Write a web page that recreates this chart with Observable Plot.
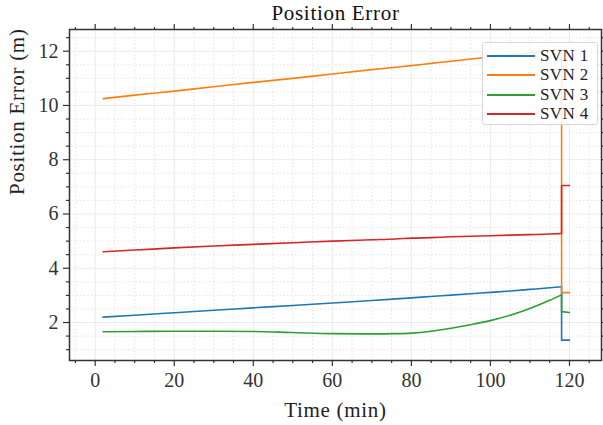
<!DOCTYPE html>
<html>
<head>
<meta charset="utf-8">
<script src="https://cdn.jsdelivr.net/npm/d3@7"></script>
<script src="https://cdn.jsdelivr.net/npm/@observablehq/plot@0.6"></script>
<style>
  html, body { margin: 0; padding: 0; background: white; }
  #wrap { position: relative; width: 603px; height: 425px; }
  #legend { position: absolute; left: 482px; top: 42px; width: 116px; height: 83px; box-sizing: border-box;
    background: rgba(255,255,255,0.85); border: 1px solid #d6d6de; border-radius: 3px; padding-top: 3px; }
  .row { height: 19.5px; display: flex; align-items: center; font-family: "Liberation Serif", serif; font-size: 17px; color: #222; letter-spacing: 0.4px; }
  .row svg { margin-left: 4px; margin-right: 5px; }
  .lbl { letter-spacing: 0.7px; }
</style>
</head>
<body>
<div id="wrap"><div id="legend"></div></div>
<script>
const seriesNames = ["SVN 1", "SVN 2", "SVN 3", "SVN 4"];
const seriesColors = ["#1f77b4", "#ff7f0e", "#2ca02c", "#d62728"];
const time = [2, 10, 20, 30, 40, 50, 60, 70, 76, 80, 85, 90, 95, 100, 105, 110, 115, 118, 118, 120];
const svn1 = [2.20, 2.27, 2.36, 2.45, 2.54, 2.63, 2.72, 2.81, 2.87, 2.91, 2.96, 3.01, 3.06, 3.11, 3.16, 3.22, 3.28, 3.32, 1.35, 1.35];
const svn2 = [10.25, 10.38, 10.53, 10.69, 10.85, 11.00, 11.16, 11.32, 11.41, 11.47, 11.55, 11.63, 11.71, 11.79, 11.86, 11.94, 12.02, 12.07, 3.10, 3.10];
const svn3 = [1.66, 1.67, 1.68, 1.68, 1.67, 1.63, 1.59, 1.58, 1.59, 1.61, 1.68, 1.79, 1.92, 2.07, 2.27, 2.52, 2.82, 3.02, 2.40, 2.37];
const svn4 = [4.61, 4.67, 4.75, 4.82, 4.88, 4.94, 5.00, 5.05, 5.08, 5.11, 5.13, 5.16, 5.18, 5.20, 5.22, 5.24, 5.26, 5.28, 7.05, 7.05];
const xMajor = [0, 20, 40, 60, 80, 100, 120];
const xMinor = [-5, 5, 10, 15, 25, 30, 35, 45, 50, 55, 65, 70, 75, 85, 90, 95, 105, 110, 115, 125];
const yMajor = [2, 4, 6, 8, 10, 12];
const yMinor = [1, 1.5, 2.5, 3, 3.5, 4.5, 5, 5.5, 6.5, 7, 7.5, 8.5, 9, 9.5, 10.5, 11, 11.5, 12.5];
const titleText = "Position Error";
const xLabel = "Time (min)";
const yLabel = "Position Error (m)";

const allSeries = [svn1, svn2, svn3, svn4];
const jumpStart = 17; // index where the final step begins
const trend = [], jump = [];
allSeries.forEach((vals, i) => vals.forEach((v, j) => {
  const row = {series: seriesNames[i], t: time[j], v};
  if (j <= jumpStart) trend.push(row);
  if (j >= jumpStart) jump.push(row);
}));

const ink = "#333";
const font = "Liberation Serif, serif";
const chart = Plot.plot({
  width: 603, height: 425,
  marginLeft: 69, marginRight: 2, marginTop: 29, marginBottom: 65,
  x: {domain: [-6.5, 128.1]},
  y: {domain: [0.6, 12.8]},
  color: {domain: seriesNames, range: seriesColors},
  style: {fontFamily: font, fontSize: "20px", background: "white", color: ink, overflow: "visible"},
  marks: [
    Plot.gridX(xMinor, {stroke: "#dcdce8", strokeOpacity: 1, strokeDasharray: "1.2,2.5"}),
    Plot.gridY(yMinor, {stroke: "#dcdce8", strokeOpacity: 1, strokeDasharray: "1.2,2.5"}),
    Plot.gridX(xMajor, {stroke: "#eaeaf4", strokeOpacity: 1}),
    Plot.gridY(yMajor, {stroke: "#eaeaf4", strokeOpacity: 1}),
    Plot.line(trend, {x: "t", y: "v", z: "series", stroke: "series", strokeWidth: 1.6, curve: "monotone-x"}),
    Plot.line(jump, {x: "t", y: "v", z: "series", stroke: "series", strokeWidth: 1.6}),
    Plot.axisX(xMajor, {tickSize: 6, tickPadding: 6, label: null, stroke: ink, strokeWidth: 1.2, fontSize: 20}),
    Plot.axisX(xMinor, {tickSize: 3, text: null, label: null, stroke: ink, strokeWidth: 1.2}),
    Plot.axisX(xMajor, {anchor: "top", tickSize: 6, text: null, label: null, stroke: ink, strokeWidth: 1.2}),
    Plot.axisX(xMinor, {anchor: "top", tickSize: 3, text: null, label: null, stroke: ink, strokeWidth: 1.2}),
    Plot.axisY(yMajor, {tickSize: 6, tickPadding: 5, label: null, stroke: ink, strokeWidth: 1.2, fontSize: 20}),
    Plot.axisY(yMinor, {tickSize: 3, text: null, label: null, stroke: ink, strokeWidth: 1.2}),
    Plot.axisY(yMajor, {anchor: "right", tickSize: 6, text: null, label: null, stroke: ink, strokeWidth: 1.2}),
    Plot.axisY(yMinor, {anchor: "right", tickSize: 3, text: null, label: null, stroke: ink, strokeWidth: 1.2}),
    Plot.frame({stroke: ink, strokeWidth: 1.5}),
    Plot.text([titleText], {frameAnchor: "top", lineAnchor: "middle", dy: -16, fontSize: 21, fill: "#111", className: "lbl"}),
    Plot.text([xLabel], {frameAnchor: "bottom", lineAnchor: "middle", dy: 50, fontSize: 21, fill: "#222", className: "lbl"}),
    Plot.text([yLabel], {frameAnchor: "left", lineAnchor: "middle", dx: -52, rotate: -90, fontSize: 21, fill: "#222", className: "lbl"})
  ]
});
const wrap = document.getElementById("wrap");
wrap.insertBefore(chart, wrap.firstChild);

const legend = document.getElementById("legend");
seriesNames.forEach((name, i) => {
  const row = document.createElement("div");
  row.className = "row";
  row.innerHTML = `<svg width="48" height="4"><line x1="0" y1="2" x2="48" y2="2" stroke="${seriesColors[i]}" stroke-width="1.8"/></svg><span>${name}</span>`;
  legend.appendChild(row);
});
</script>
</body>
</html>
